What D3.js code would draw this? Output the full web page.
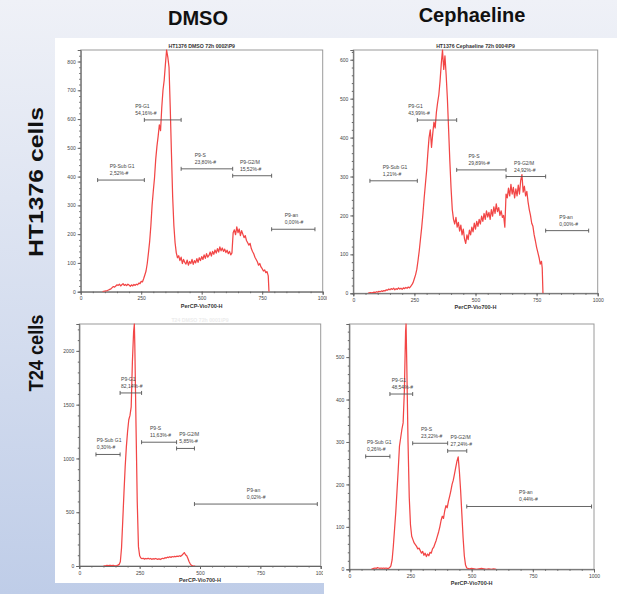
<!DOCTYPE html>
<html>
<head>
<meta charset="utf-8">
<script src="https://cdn.jsdelivr.net/npm/d3@7"></script>
<style>
  html, body { margin: 0; padding: 0; background: #fff; }
  svg { display: block; }
</style>
</head>
<body>
<div id="chart"></div>
<script>
const width = 617;
const height = 594;

// gate names, same for all four plots
const gateNames = ["P9-Sub G1", "P9-G1", "P9-S", "P9-G2/M", "P9-an"];

// histograms : [channel, count]
const countsHtDmso = [
  [90,0],[95,1],[100,2],[105,3],[110,4],[115,6],[120,8],[125,10],[130,14],[135,18],[140,16],[145,20],[150,24],[155,22],
  [160,26],[165,20],[170,24],[175,28],[180,22],[185,25],[190,21],[195,26],[200,23],[205,19],[210,24],[215,20],[220,25],
  [225,22],[230,26],[235,24],[240,30],[245,28],[250,36],[255,34],[260,45],[265,58],[270,72],[275,98],[280,135],[285,175],
  [290,230],[295,300],[300,350],[305,395],[310,460],[315,505],[320,540],[325,580],[330,560],[335,640],[340,700],[345,735],
  [350,790],[355,840],[360,815],[365,780],[370,640],[375,480],[380,330],[385,230],[390,170],[395,135],[400,118],[405,125],
  [410,108],[415,120],[420,98],[425,112],[430,102],[435,96],[440,110],[445,92],[450,105],[455,98],[460,112],[465,95],
  [470,108],[475,100],[480,115],[485,102],[490,118],[495,108],[500,122],[505,112],[510,128],[515,116],[520,132],[525,120],
  [530,126],[535,138],[540,124],[545,140],[550,130],[555,145],[560,134],[565,150],[570,138],[575,156],[580,142],[585,152],
  [590,140],[595,148],[600,136],[605,144],[610,132],[615,140],[620,128],[625,135],[630,205],[635,215],[640,198],[645,225],
  [650,205],[655,218],[660,195],[665,212],[670,200],[675,188],[680,195],[685,178],[690,170],[695,162],[700,168],[705,150],
  [710,140],[715,132],[720,120],[725,112],[730,104],[735,92],[740,98],[745,86],[750,80],[755,72],[760,76],[765,66],
  [770,70],[775,55],[778,0]
];
const countsHtCeph = [
  [60,0],[65,1],[70,2],[75,1],[80,2],[85,3],[90,2],[95,4],[100,3],[105,5],[110,4],[115,6],[120,5],[125,7],[130,6],
  [135,9],[140,8],[145,11],[150,9],[155,12],[160,10],[165,13],[170,9],[175,12],[180,10],[185,14],[190,11],[195,13],
  [200,10],[205,14],[210,12],[215,15],[220,13],[225,16],[230,14],[235,18],[240,22],[245,28],[250,38],[255,48],[260,62],
  [265,85],[270,110],[275,140],[280,170],[285,205],[290,245],[295,280],[300,315],[305,360],[310,400],[315,420],[320,375],
  [325,410],[330,440],[335,425],[340,465],[345,490],[350,510],[355,545],[360,590],[365,625],[370,575],[375,610],[380,560],
  [385,500],[390,420],[395,340],[400,270],[405,215],[410,190],[415,178],[420,195],[425,170],[430,182],[435,160],[440,175],
  [445,150],[450,165],[455,140],[460,128],[465,150],[470,138],[475,162],[480,150],[485,170],[490,158],[495,180],[500,165],
  [505,185],[510,172],[515,190],[520,178],[525,198],[530,185],[535,205],[540,190],[545,212],[550,196],[555,208],[560,190],
  [565,215],[570,198],[575,222],[580,205],[585,230],[590,210],[595,220],[600,200],[605,212],[610,195],[615,200],[620,170],
  [625,255],[630,245],[635,270],[640,250],[645,280],[650,255],[655,272],[660,245],[665,268],[670,250],[675,278],[680,255],
  [685,290],[690,305],[695,260],[700,275],[705,250],[710,262],[715,235],[720,215],[725,200],[730,180],[735,172],[740,150],
  [745,135],[750,118],[755,105],[760,92],[765,75],[770,82],[773,65],[776,0]
];
const countsT24Dmso = [
  [100,0],[105,2],[110,3],[115,5],[120,4],[125,6],[130,5],[135,4],[140,6],[145,3],[150,2],[155,4],[160,8],[165,15],
  [170,40],[175,170],[180,420],[185,680],[190,920],[195,1110],[200,1250],[205,1360],[210,1400],[215,1480],[220,1900],
  [225,2180],[228,2250],[230,2050],[235,1300],[240,600],[245,180],[250,95],[255,75],[260,68],[265,72],[270,64],[275,70],
  [280,66],[285,72],[290,65],[295,70],[300,62],[305,68],[310,64],[315,70],[320,66],[325,62],[330,68],[335,60],[340,66],
  [345,72],[350,68],[355,78],[360,74],[365,82],[370,78],[375,86],[380,80],[385,88],[390,84],[395,90],[400,86],[405,92],
  [410,88],[415,95],[420,90],[425,100],[430,112],[435,125],[440,105],[445,95],[450,70],[455,40],[460,18],[465,6],[470,2],
  [480,0]
];
const countsT24Ceph = [
  [90,0],[95,1],[100,2],[105,3],[110,2],[115,4],[120,3],[125,2],[130,3],[135,2],[140,3],[145,2],[150,3],[155,2],[160,2],
  [165,4],[170,8],[175,22],[180,55],[185,95],[190,135],[195,185],[200,235],[205,290],[210,310],[215,330],[220,345],
  [225,420],[230,560],[232,578],[235,480],[240,300],[245,170],[250,105],[255,78],[260,70],[265,62],[270,58],[275,54],
  [280,48],[285,50],[290,44],[295,38],[300,42],[305,33],[310,38],[315,30],[320,36],[325,32],[330,40],[335,38],[340,48],
  [345,52],[350,60],[355,68],[360,78],[365,88],[370,100],[375,115],[380,125],[385,120],[390,138],[395,150],[400,145],
  [405,160],[410,172],[415,185],[420,200],[425,210],[430,225],[435,240],[440,255],[445,265],[450,230],[455,185],[460,130],
  [465,75],[470,32],[475,10],[480,3],[490,1],[500,2],[510,1],[520,0],[530,1],[540,2],[550,1],[560,0],[570,1],[580,0],
  [590,1],[600,0]
];

// gates : [from, to, level] in channel / count units
const gatesHtDmso = [[70,263,388],[263,415,597],[415,628,427],[628,789,403],[789,968,217]];
const gatesHtCeph = [[68,262,289],[262,423,445],[423,625,317],[625,787,300],[787,963,161]];
const gatesT24Dmso = [[69,169,1037],[169,258,1609],[258,403,1151],[403,477,1093],[477,986,576]];
const gatesT24Ceph = [[67,166,266],[166,259,413],[259,402,297],[402,480,279],[480,990,148]];

// where the gate text starts (channel)
const labelAtHt = [120, 225, 471, 658, 843];
const labelAtT24 = [72, 173, 293, 414, 694];

const pctHtDmso = ["2,52%", "54,16%", "23,80%", "15,52%", "0,00%"];
const pctHtCeph = ["1,21%", "43,99%", "29,89%", "24,92%", "0,00%"];
const pctT24Dmso = ["0,30%", "82,14%", "11,63%", "5,85%", "0,02%"];
const pctT24Ceph = ["0,26%", "48,54%", "23,22%", "27,24%", "0,44%"];

const xTicks = [0, 250, 500, 750, 1000];

const panels = [
  {title: "HT1376 DMSO 72h 0002\\P9", x0: 80.7, x1: 322.7, y0: 50, y1: 291.7, yMax: 840, yStep: 100, yMinor: 20,
   counts: countsHtDmso, gates: gatesHtDmso, pct: pctHtDmso, labelAt: labelAtHt, clip: [55, 38, 272, 274]},
  {title: "HT1376 Cephaeline 72h 0004\\P9", x0: 353.3, x1: 597.7, y0: 50, y1: 293.3, yMax: 625, yStep: 100, yMinor: 20,
   counts: countsHtCeph, gates: gatesHtCeph, pct: pctHtCeph, labelAt: labelAtHt, clip: [327, 38, 290, 274]},
  {title: "T24 DMSO 72h 0001\\P9", faint: true, x0: 79.3, x1: 320.7, y0: 324, y1: 566, yMax: 2250, yStep: 500, yMinor: 100,
   counts: countsT24Dmso, gates: gatesT24Dmso, pct: pctT24Dmso, labelAt: labelAtT24, clip: [55, 313, 268, 270]},
  {title: "", x0: 349.3, x1: 594, y0: 324, y1: 569.3, yMax: 578, yStep: 100, yMinor: 20,
   counts: countsT24Ceph, gates: gatesT24Ceph, pct: pctT24Ceph, labelAt: labelAtT24, clip: [324, 313, 293, 281]}
];

const svg = d3.select("#chart").append("svg")
    .attr("width", width)
    .attr("height", height)
    .style("font-family", "'Liberation Sans', Arial, sans-serif");

const defs = svg.append("defs");
const grad = defs.append("linearGradient")
    .attr("id", "bg").attr("x1", 0).attr("y1", 0).attr("x2", 0).attr("y2", 1);
grad.append("stop").attr("offset", "0%").attr("stop-color", "#eff1f7");
grad.append("stop").attr("offset", "100%").attr("stop-color", "#bfcde8");

svg.append("rect").attr("width", width).attr("height", height).attr("fill", "url(#bg)");
// white sheets
svg.append("rect").attr("x", 55).attr("y", 38).attr("width", width - 55).attr("height", 545).attr("fill", "#fff");
svg.append("rect").attr("x", 324).attr("y", 300).attr("width", width - 324).attr("height", height - 300).attr("fill", "#fff");

// column and row headings
svg.append("text").attr("x", 198).attr("y", 25).attr("text-anchor", "middle")
    .attr("font-size", 20).attr("font-weight", "bold").attr("fill", "#111").text("DMSO");
svg.append("text").attr("x", 472).attr("y", 22).attr("text-anchor", "middle")
    .attr("font-size", 20).attr("font-weight", "bold").attr("fill", "#111").text("Cephaeline");
svg.append("text").attr("transform", "translate(43,182) rotate(-90)").attr("text-anchor", "middle")
    .attr("font-size", 21).attr("font-weight", "bold").attr("fill", "#111")
    .attr("textLength", 150).attr("lengthAdjust", "spacingAndGlyphs").text("HT1376 cells");
svg.append("text").attr("transform", "translate(43,353) rotate(-90)").attr("text-anchor", "middle")
    .attr("font-size", 21).attr("font-weight", "bold").attr("fill", "#111")
    .attr("textLength", 77).attr("lengthAdjust", "spacingAndGlyphs").text("T24 cells");

panels.forEach((p, i) => {
  defs.append("clipPath").attr("id", "panel" + i)
    .append("rect").attr("x", p.clip[0]).attr("y", p.clip[1]).attr("width", p.clip[2]).attr("height", p.clip[3]);
  defs.append("clipPath").attr("id", "plot" + i)
    .append("rect").attr("x", p.x0).attr("y", p.y0 - 1).attr("width", p.x1 - p.x0).attr("height", p.y1 - p.y0 + 1);

  const g = svg.append("g").attr("clip-path", `url(#panel${i})`);

  const x = d3.scaleLinear().domain([0, 1000]).range([p.x0, p.x1]);
  const y = d3.scaleLinear().domain([0, p.yMax]).range([p.y1, p.y0]);

  // frame
  g.append("rect").attr("x", p.x0).attr("y", p.y0).attr("width", p.x1 - p.x0).attr("height", p.y1 - p.y0)
      .attr("fill", "none").attr("stroke", "#9a9a9a").attr("stroke-width", 1);

  // minor ticks
  g.append("g").attr("transform", `translate(${p.x0},0)`)
      .call(d3.axisLeft(y).tickValues(d3.range(0, p.yMax, p.yMinor)).tickSize(1.5).tickFormat(""))
      .call(a => a.select(".domain").remove())
      .call(a => a.selectAll("line").attr("stroke", "#666"));
  g.append("g").attr("transform", `translate(0,${p.y1})`)
      .call(d3.axisBottom(x).tickValues(d3.range(0, 1001, 50)).tickSize(1.5).tickFormat(""))
      .call(a => a.select(".domain").remove())
      .call(a => a.selectAll("line").attr("stroke", "#666"));

  // major ticks
  const yAxis = g.append("g").attr("transform", `translate(${p.x0},0)`)
      .call(d3.axisLeft(y).tickValues(d3.range(0, p.yMax, p.yStep)).tickFormat(d3.format("d"))
        .tickSize(3).tickPadding(2));
  const xAxis = g.append("g").attr("transform", `translate(0,${p.y1})`)
      .call(d3.axisBottom(x).tickValues(xTicks).tickFormat(d3.format("d")).tickSize(3).tickPadding(2));
  [yAxis, xAxis].forEach(a => {
    a.select(".domain").attr("stroke", "#666");
    a.selectAll("line").attr("stroke", "#666");
    a.selectAll("text").attr("font-size", 5).attr("fill", "#444").attr("font-family", null);
  });

  // title and axis label
  g.append("text").attr("x", (p.x0 + p.x1) / 2).attr("y", p.y0 - 2.5).attr("text-anchor", "middle")
      .attr("font-size", 5.2).attr("font-weight", "bold").attr("fill", p.faint ? "#ececec" : "#333").text(p.title);
  g.append("text").attr("x", (p.x0 + p.x1) / 2).attr("y", p.y1 + 16).attr("text-anchor", "middle")
      .attr("font-size", 5.5).attr("font-weight", "bold").attr("fill", "#333").text("PerCP-Vio700-H");

  // histogram
  g.append("path").datum(p.counts)
      .attr("clip-path", `url(#plot${i})`)
      .attr("fill", "none")
      .attr("stroke", "#f24646")
      .attr("stroke-width", 1.25)
      .attr("stroke-linejoin", "round")
      .attr("d", d3.line().x(d => x(d[0])).y(d => y(d[1])));

  // gates
  const gate = g.append("g").selectAll("g").data(p.gates).join("g");
  gate.append("line")
      .attr("x1", d => x(d[0])).attr("x2", d => x(d[1]))
      .attr("y1", d => y(d[2])).attr("y2", d => y(d[2]))
      .attr("stroke", "#555").attr("stroke-width", 0.9);
  gate.selectAll(".cap").data(d => [[d[0], d[2]], [d[1], d[2]]]).join("line")
      .attr("class", "cap")
      .attr("x1", d => x(d[0])).attr("x2", d => x(d[0]))
      .attr("y1", d => y(d[1]) - 2).attr("y2", d => y(d[1]) + 2)
      .attr("stroke", "#555").attr("stroke-width", 0.9);
  gate.append("text")
      .attr("x", (d, j) => x(p.labelAt[j])).attr("y", d => y(d[2]) - 12)
      .attr("font-size", 5).attr("fill", "#444")
      .text((d, j) => gateNames[j]);
  gate.append("text")
      .attr("x", (d, j) => x(p.labelAt[j])).attr("y", d => y(d[2]) - 5)
      .attr("font-size", 5).attr("fill", "#444")
      .text((d, j) => p.pct[j] + "-#");
});
</script>
</body>
</html>
